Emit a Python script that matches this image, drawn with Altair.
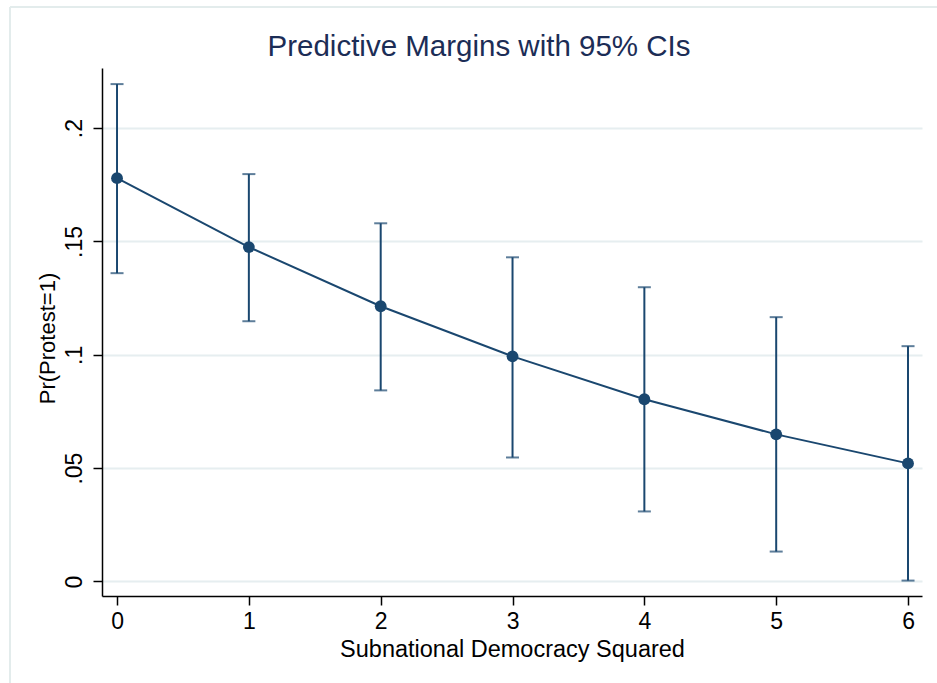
import altair as alt
import pandas as pd

x_vals = [0, 1, 2, 3, 4, 5, 6]
margin = [0.1779, 0.1475, 0.1214, 0.0993, 0.0804, 0.0649, 0.0521]
ci_low = [0.1360, 0.1148, 0.0843, 0.0547, 0.0309, 0.0132, 0.0004]
ci_high = [0.2194, 0.1797, 0.1580, 0.1430, 0.1298, 0.1166, 0.1038]
y_ticks = [0, 0.05, 0.1, 0.15, 0.2]

df = pd.DataFrame({"x": x_vals, "m": margin, "lo": ci_low, "hi": ci_high})

NAVY = "#1a476f"
FONT = "Liberation Sans"

xscale = alt.Scale(domain=[-0.114, 6.106], nice=False, zero=False)
yscale = alt.Scale(domain=[-0.0064, 0.2265], nice=False, zero=False)

xaxis = alt.Axis(values=x_vals, title="Subnational Democracy Squared", grid=False, format="d",
                 labelFontSize=23, titleFontSize=23.5, labelFont=FONT, titleFont=FONT,
                 titleFontWeight="normal",
                 labelColor="black", titleColor="black", tickColor="black", domainColor="black",
                 domainWidth=1.5, tickWidth=1.5, tickSize=9, labelPadding=5, titlePadding=4,
                 labelFlush=False)
yaxis = alt.Axis(values=y_ticks, title="Pr(Protest=1)", grid=True, gridColor="#e6eef0", gridWidth=2,
                 format=".2~f", labelExpr="replace(datum.label, /^0\\./, '.')",
                 labelFontSize=23, titleFontSize=22, labelFont=FONT, titleFont=FONT,
                 titleFontWeight="normal",
                 labelColor="black", titleColor="black", tickColor="black", domainColor="black",
                 domainWidth=1.5, tickWidth=1.5, tickSize=9, labelAngle=270, labelAlign="center",
                 labelBaseline="alphabetic", labelPadding=12, titleX=-55, titleY=270,
                 titleBaseline="middle", titleAngle=270, labelFlush=False)

base = alt.Chart(df)

rules = base.mark_rule(color=NAVY, strokeWidth=2).encode(
    x=alt.X("x:Q", scale=xscale, axis=xaxis),
    y=alt.Y("lo:Q", scale=yscale, axis=yaxis),
    y2="hi:Q",
)
cap_lo = base.mark_tick(color=NAVY, thickness=2, size=13, orient="horizontal").encode(
    x="x:Q", y="lo:Q")
cap_hi = base.mark_tick(color=NAVY, thickness=2, size=13, orient="horizontal").encode(
    x="x:Q", y="hi:Q")
line = base.mark_line(color=NAVY, strokeWidth=2).encode(x="x:Q", y="m:Q")
pts = base.mark_point(color=NAVY, filled=True, opacity=1, size=140, shape="circle").encode(
    x="x:Q", y="m:Q")

frame_df = pd.DataFrame({"k": [0]})
frame_top = alt.Chart(frame_df).mark_rule(color="#e3ecec", strokeWidth=2).encode(
    x=alt.value(-92), x2=alt.value(850), y=alt.value(-61))
frame_left = alt.Chart(frame_df).mark_rule(color="#e3ecec", strokeWidth=2).encode(
    x=alt.value(-92), y=alt.value(-61), y2=alt.value(640))

chart = alt.layer(frame_top, frame_left, rules, cap_lo, cap_hi, line, pts).properties(
    width=820, height=528,
    title=alt.TitleParams("Predictive Margins with 95% CIs", fontSize=29.5, font=FONT,
                          color="#1c2d56", fontWeight="normal", anchor="middle", dx=-33,
                          offset=-56, frame="group"),
    autosize=alt.AutoSizeParams(type="none"),
    padding={"left": 102, "top": 68, "right": 15, "bottom": 87},
).configure(background="white").configure_view(stroke=None)

chart.save("out.html", embed_options={"renderer": "svg", "actions": False})
